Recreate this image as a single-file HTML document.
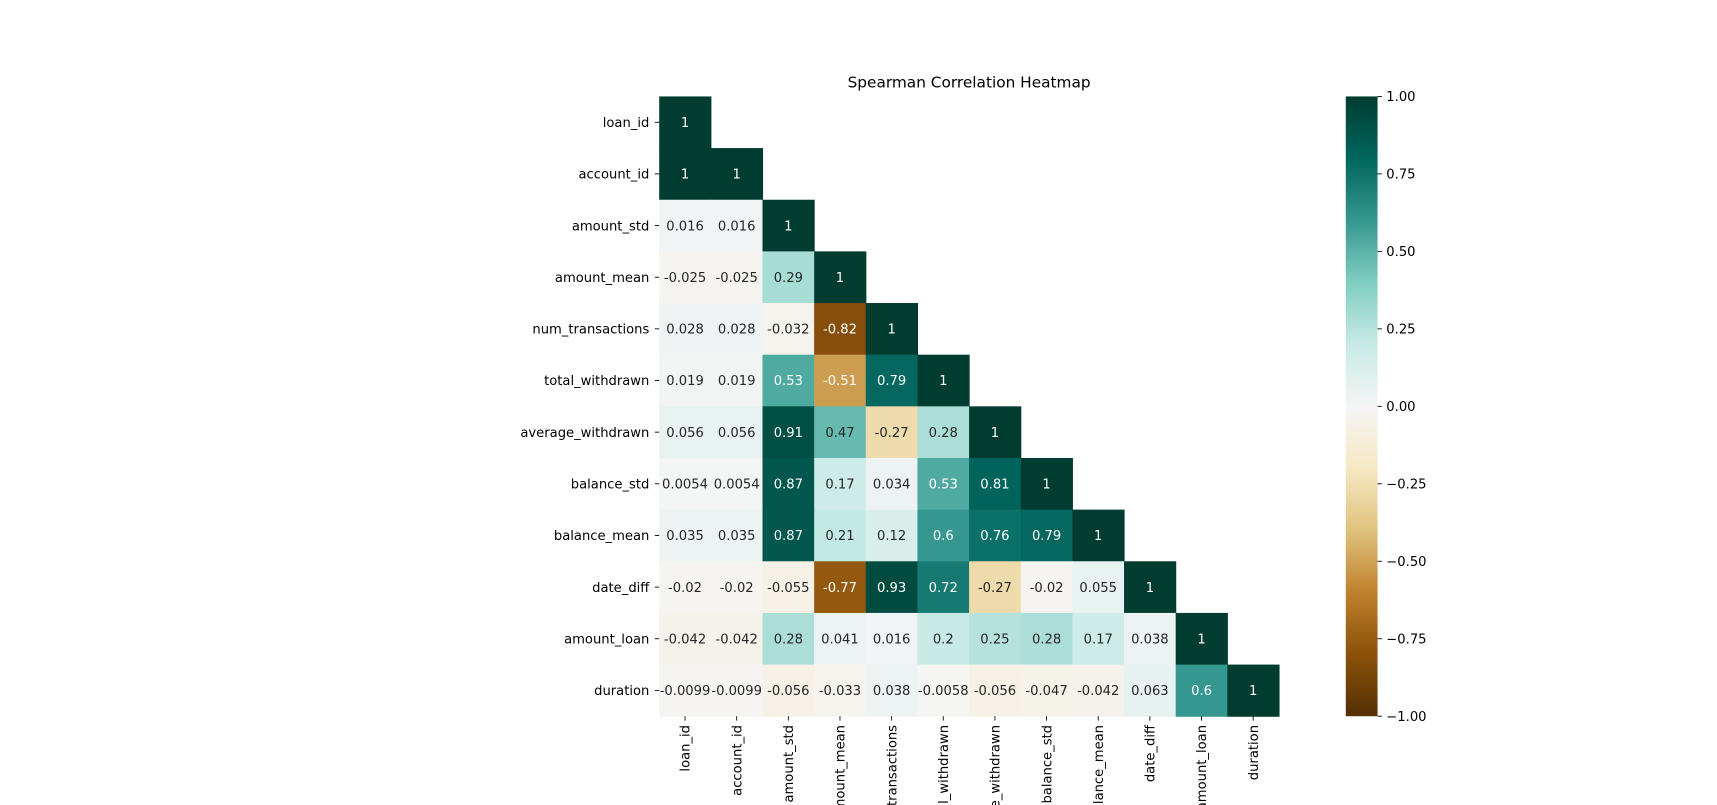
<!DOCTYPE html>
<html><head><meta charset="utf-8"><style>
html,body{margin:0;padding:0;background:#fff;overflow:hidden;width:1717px;height:805px}
svg{display:block;overflow:hidden}
svg text{font-family:"DejaVu Sans","Liberation Sans",sans-serif}
</style></head><body>
<svg id="chart" xmlns="http://www.w3.org/2000/svg" width="1717" height="805" viewBox="0 0 1568 735">
<defs>
<linearGradient id="cbgrad" x1="0" y1="1" x2="0" y2="0">
<stop offset="0" stop-color="#543005"/><stop offset="0.1" stop-color="#8c510a"/><stop offset="0.2" stop-color="#bf812d"/><stop offset="0.3" stop-color="#dfc27d"/><stop offset="0.4" stop-color="#f6e8c3"/><stop offset="0.5" stop-color="#f5f5f5"/><stop offset="0.6" stop-color="#c7eae5"/><stop offset="0.7" stop-color="#80cdc1"/><stop offset="0.8" stop-color="#35978f"/><stop offset="0.9" stop-color="#01665e"/><stop offset="1" stop-color="#003c30"/>
</linearGradient>
</defs>
<text x="885" y="80" text-anchor="middle" font-size="14">Spearman Correlation Heatmap</text>
<g id="cells"></g>
<g id="ylabels"></g>
<g id="xlabels"></g>
<rect x="1229" y="88" width="29" height="566" fill="url(#cbgrad)"/>
<g id="cbticks"></g>
</svg>
<script>
const labels = ["loan_id","account_id","amount_std","amount_mean","num_transactions","total_withdrawn","average_withdrawn","balance_std","balance_mean","date_diff","amount_loan","duration"];
const row0 = [1];
const row1 = [1,1];
const row2 = [0.016,0.016,1];
const row3 = [-0.025,-0.025,0.29,1];
const row4 = [0.028,0.028,-0.032,-0.82,1];
const row5 = [0.019,0.019,0.53,-0.51,0.79,1];
const row6 = [0.056,0.056,0.91,0.47,-0.27,0.28,1];
const row7 = [0.0054,0.0054,0.87,0.17,0.034,0.53,0.81,1];
const row8 = [0.035,0.035,0.87,0.21,0.12,0.6,0.76,0.79,1];
const row9 = [-0.02,-0.02,-0.055,-0.77,0.93,0.72,-0.27,-0.02,0.055,1];
const row10 = [-0.042,-0.042,0.28,0.041,0.016,0.2,0.25,0.28,0.17,0.038,1];
const row11 = [-0.0099,-0.0099,-0.056,-0.033,0.038,-0.0058,-0.056,-0.047,-0.042,0.063,0.6,1];
const rows = [row0,row1,row2,row3,row4,row5,row6,row7,row8,row9,row10,row11];
const cbTicks = [1.00,0.75,0.50,0.25,0.00,-0.25,-0.50,-0.75,-1.00];

const NS="http://www.w3.org/2000/svg";
const X0=602,Y0=88,W=566,H=566,n=labels.length,cw=W/n,ch=H/n;
const xs=i=>X0+i*cw, ys=j=>Y0+j*ch;
const cbY=v=>Y0+(1-v)/2*H;
const stops=["#543005","#8c510a","#bf812d","#dfc27d","#f6e8c3","#f5f5f5","#c7eae5","#80cdc1","#35978f","#01665e","#003c30"].map(h=>[1,3,5].map(k=>parseInt(h.substr(k,2),16)));
function color(v){const t=Math.max(0,Math.min(1,(v+1)/2))*10;const i=Math.min(9,Math.floor(t)),f=t-i;return stops[i].map((c,k)=>c+(stops[i+1][k]-c)*f);}
function lum(c){const l=c.map(x=>{x/=255;return x<=0.03928?x/12.92:Math.pow((x+0.055)/1.055,2.4)});return 0.2126*l[0]+0.7152*l[1]+0.0722*l[2];}
function mk(tag,attrs,parent){const e=document.createElementNS(NS,tag);for(const k in attrs)e.setAttribute(k,attrs[k]);parent.appendChild(e);return e;}
const FS='12';
const gc=document.getElementById('cells');
rows.forEach((r,j)=>r.forEach((v,i)=>{
  const c=color(v);
  const rect=mk('rect',{x:xs(i),y:ys(j),width:cw+0.5,height:ch+0.5,fill:`rgb(${c.map(Math.round).join(',')})`},gc);
  
  
  const t=mk('text',{x:xs(i)+cw/2,y:ys(j)+ch/2+4.3,'text-anchor':'middle','font-size':FS,fill:lum(c)>0.408?'#262626':'#ffffff'},gc);
  
  
  t.textContent=String(v);
}));
const gy=document.getElementById('ylabels'),gx=document.getElementById('xlabels');
labels.forEach((l,k)=>{
  const yc=ys(k)+ch/2;
  mk('line',{x1:X0-4,x2:X0,y1:yc,y2:yc,stroke:'#000','stroke-width':0.8},gy);
  const t=mk('text',{x:X0-9,y:yc+4.3,'text-anchor':'end','font-size':FS,fill:'#000'},gy);
  
  
  t.textContent=l;
  const xc=xs(k)+cw/2;
  mk('line',{x1:xc,x2:xc,y1:Y0+H,y2:Y0+H+4,stroke:'#000','stroke-width':0.8},gx);
  const tx=mk('text',{x:0,y:0,'text-anchor':'end','font-size':FS,fill:'#000',transform:`translate(${xc+4.3},${Y0+H+8}) rotate(-90)`},gx);
  
  
  tx.textContent=l;
});
const gcb=document.getElementById('cbticks');
cbTicks.forEach(v=>{
  const y=cbY(v);
  mk('line',{x1:1258,x2:1262,y1:y,y2:y,stroke:'#000','stroke-width':0.8},gcb);
  const t=mk('text',{x:1266,y:y+4.3,'font-size':FS,fill:'#000'},gcb);
  
  
  t.textContent=(v<0?'\u2212':'')+Math.abs(v).toFixed(2);
});
</script>
</body></html>
